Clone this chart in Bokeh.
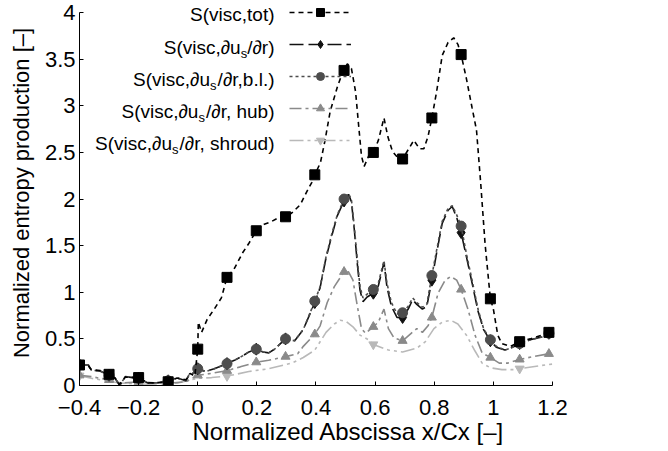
from bokeh.plotting import figure
from bokeh.models import FixedTicker, Label, Range1d, Legend, LegendItem
from bokeh.embed import file_html
from bokeh.resources import INLINE

# ---------------- data ----------------
tot_x = [-0.4, -0.37, -0.36, -0.33, -0.3, -0.28, -0.265, -0.245, -0.2, -0.17,
         -0.14, -0.1, -0.07, -0.04, -0.026, -0.01, 0.0, 0.002, 0.013, 0.032,
         0.056, 0.08, 0.099, 0.123, 0.153, 0.172, 0.198, 0.225, 0.25, 0.274,
         0.297, 0.318, 0.347, 0.369, 0.386, 0.396, 0.415, 0.43, 0.448, 0.472,
         0.49, 0.506, 0.52, 0.534, 0.544, 0.554, 0.563, 0.578, 0.594, 0.611,
         0.63, 0.643, 0.659, 0.683, 0.693, 0.712, 0.731, 0.75, 0.765, 0.779,
         0.792, 0.808, 0.827, 0.847, 0.866, 0.88, 0.891, 0.909, 0.928, 0.943,
         0.957, 0.972, 0.986, 0.99, 1.0, 1.015, 1.029, 1.058, 1.089, 1.125,
         1.164, 1.188]
tot_y = [0.22, 0.21, 0.17, 0.16, 0.12, 0.08, 0.01, 0.09, 0.085, 0.03,
         0.03, 0.04, 0.08, 0.06, 0.13, 0.10, 0.39, 0.68, 0.57, 0.71,
         0.82, 0.94, 1.16, 1.25, 1.43, 1.52, 1.66, 1.73, 1.76, 1.80,
         1.81, 1.85, 1.94, 2.08, 2.18, 2.26, 2.39, 2.62, 2.94, 3.2,
         3.36, 3.45, 3.40, 3.15, 2.8, 2.46, 2.35, 2.46, 2.50, 2.63,
         2.87, 2.67, 2.51, 2.42, 2.43, 2.53, 2.63, 2.54, 2.54, 2.67,
         2.87, 3.15, 3.54, 3.68, 3.73, 3.66, 3.55, 3.29, 2.98, 2.74,
         2.18, 1.52, 1.06, 0.93, 0.82, 0.54, 0.45, 0.42, 0.47, 0.50,
         0.54, 0.57]

bl_x = [-0.4, -0.37, -0.36, -0.33, -0.3, -0.28, -0.264, -0.245, -0.2, -0.167,
        -0.13, -0.1, -0.07, -0.04, -0.03, -0.017, 0.0, 0.027, 0.056, 0.099,
        0.124, 0.153, 0.173, 0.198, 0.221, 0.24, 0.26, 0.297, 0.328, 0.357,
        0.396, 0.414, 0.434, 0.453, 0.472, 0.495, 0.51, 0.52, 0.53, 0.54,
        0.549, 0.559, 0.573, 0.594, 0.611, 0.63, 0.64, 0.655, 0.674, 0.693,
        0.712, 0.727, 0.741, 0.76, 0.775, 0.792, 0.808, 0.827, 0.847, 0.861,
        0.876, 0.891, 0.909, 0.928, 0.948, 0.967, 0.99, 1.01, 1.039, 1.058,
        1.089, 1.125, 1.164, 1.188]
bl_y = [0.22, 0.22, 0.165, 0.155, 0.11, 0.08, 0.0, 0.095, 0.077, 0.025,
        0.03, 0.05, 0.08, 0.05, 0.11, 0.13, 0.18, 0.15, 0.18, 0.235,
        0.27, 0.32, 0.36, 0.39, 0.36, 0.35, 0.39, 0.50, 0.48, 0.60,
        0.905, 1.06, 1.38, 1.62, 1.83, 2.0, 2.06, 1.99, 1.69, 1.34,
        1.06, 0.94, 0.98, 1.03, 1.1, 1.34, 1.1, 0.89, 0.77, 0.78,
        0.85, 0.94, 0.89, 0.84, 0.87, 1.18, 1.45, 1.76, 1.9, 1.93,
        1.83, 1.71, 1.41, 1.13, 0.82, 0.61, 0.49, 0.42, 0.38, 0.40,
        0.45, 0.49, 0.52, 0.56]
dudr_y = [0.22, 0.22, 0.165, 0.155, 0.11, 0.08, 0.0, 0.095, 0.077, 0.025,
          0.03, 0.05, 0.08, 0.05, 0.11, 0.13, 0.18, 0.15, 0.18, 0.235,
          0.27, 0.32, 0.36, 0.39, 0.36, 0.35, 0.39, 0.50, 0.48, 0.60,
          0.89, 1.05, 1.37, 1.6, 1.82, 1.98, 2.05, 1.97, 1.66, 1.3,
          1.02, 0.9, 0.95, 0.99, 1.07, 1.32, 1.06, 0.85, 0.73, 0.73,
          0.82, 0.92, 0.87, 0.82, 0.85, 1.13, 1.42, 1.74, 1.88, 1.92,
          1.8, 1.64, 1.38, 1.1, 0.8, 0.6, 0.48, 0.41, 0.38, 0.40,
          0.45, 0.49, 0.52, 0.56]

hub_x = [-0.4, -0.36, -0.3, -0.26, -0.2, -0.15, -0.1, -0.04, 0.0, 0.047,
         0.099, 0.144, 0.198, 0.24, 0.297, 0.338, 0.357, 0.396, 0.414, 0.438,
         0.462, 0.495, 0.51, 0.525, 0.54, 0.554, 0.568, 0.594, 0.611, 0.63,
         0.645, 0.664, 0.693, 0.722, 0.741, 0.76, 0.779, 0.792, 0.813, 0.837,
         0.856, 0.876, 0.891, 0.914, 0.938, 0.962, 0.99, 1.02, 1.048, 1.089,
         1.135, 1.188]
hub_y = [0.11, 0.095, 0.06, 0.025, 0.04, 0.03, 0.025, 0.04, 0.11, 0.13,
         0.16, 0.2, 0.25, 0.27, 0.31, 0.34, 0.42, 0.55, 0.64, 0.89,
         1.06, 1.22, 1.22, 1.13, 0.85, 0.61, 0.56, 0.63, 0.68, 0.82,
         0.61, 0.51, 0.48, 0.56, 0.61, 0.57, 0.64, 0.73, 0.99, 1.13,
         1.17, 1.13, 1.03, 0.82, 0.54, 0.35, 0.30, 0.24, 0.24, 0.28,
         0.31, 0.34]

shroud_x = [-0.4, -0.36, -0.26, -0.167, -0.07, 0.0, 0.047, 0.099, 0.173, 0.24,
            0.318, 0.357, 0.396, 0.434, 0.462, 0.482, 0.501, 0.525, 0.549, 0.578,
            0.594, 0.645, 0.693, 0.741, 0.77, 0.799, 0.827, 0.856, 0.88, 0.909,
            0.938, 0.962, 0.99, 1.029, 1.068, 1.089, 1.152, 1.2]
shroud_y = [0.105, 0.077, 0.025, 0.014, 0.025, 0.077, 0.085, 0.1, 0.15, 0.18,
            0.24, 0.3, 0.38, 0.57, 0.66, 0.70, 0.69, 0.63, 0.54, 0.49,
            0.44, 0.38, 0.36, 0.40, 0.47, 0.61, 0.68, 0.70, 0.66, 0.54,
            0.37, 0.24, 0.19, 0.17, 0.17, 0.18, 0.21, 0.23]

# marker positions
mk_x = [-0.4, -0.3, -0.2, -0.1, 0.0, 0.099, 0.198, 0.297, 0.396, 0.495,
        0.594, 0.693, 0.792, 0.891, 0.99, 1.089, 1.188]
tot_my = [0.22, 0.12, 0.085, 0.04, 0.39, 1.16, 1.66, 1.81, 2.26, 3.38,
          2.50, 2.43, 2.87, 3.55, 0.93, 0.47, 0.57]
dudr_my = [0.22, 0.11, 0.077, 0.05, 0.18, 0.235, 0.39, 0.50, 0.89, 1.98,
           0.99, 0.73, 1.13, 1.64, 0.48, 0.45, 0.56]
bl_my = [0.22, 0.11, 0.077, 0.05, 0.18, 0.235, 0.39, 0.50, 0.905, 2.0,
         1.03, 0.78, 1.18, 1.71, 0.49, 0.45, 0.56]
hub_my = [0.11, 0.06, 0.04, 0.025, 0.11, 0.16, 0.25, 0.31, 0.55, 1.22,
          0.63, 0.48, 0.73, 1.03, 0.30, 0.28, 0.34]
shroud_mx = [-0.4, 0.099, 0.594, 1.089]
shroud_my = [0.105, 0.1, 0.44, 0.18]

x_ticks = [-0.4, -0.2, 0, 0.2, 0.4, 0.6, 0.8, 1, 1.2]
x_tick_labels = ["\u22120.4", "\u22120.2", "0", "0.2", "0.4", "0.6", "0.8", "1", "1.2"]
y_ticks = [0, 0.5, 1, 1.5, 2, 2.5, 3, 3.5, 4]
y_tick_labels = ["0", "0.5", "1", "1.5", "2", "2.5", "3", "3.5", "4"]

# legend text: (head, subscript, tail)
legend_texts = [
    ("S(visc,tot)", "", ""),
    ("S(visc,\u2202u", "s", "/\u2202r)"),
    ("S(visc,\u2202u", "s", "/\u2202r,b.l.)"),
    ("S(visc,\u2202u", "s", "/\u2202r, hub)"),
    ("S(visc,\u2202u", "s", "/\u2202r, shroud)"),
]

# ---------------- figure ----------------
FONT = "Liberation Sans"
# the frame is wider/taller than the drawn axes; axis lines are bounded
p = figure(width=668, height=451, output_backend="svg", toolbar_location=None,
           x_range=Range1d(-0.4, 1.42), y_range=Range1d(0, 4.13),
           min_border_left=79, min_border_right=51, min_border_top=0,
           min_border_bottom=66)
p.outline_line_color = None
p.grid.visible = False
p.background_fill_color = "white"
p.border_fill_color = "white"

p.xaxis.ticker = FixedTicker(ticks=x_ticks)
p.xaxis.major_label_overrides = dict(zip(x_ticks, x_tick_labels))
p.yaxis.ticker = FixedTicker(ticks=y_ticks)
p.yaxis.major_label_overrides = dict(zip(y_ticks, y_tick_labels))
p.xaxis.bounds = (-0.4, 1.2)
p.yaxis.bounds = (0, 4)
p.xaxis.axis_label = "Normalized Abscissa x/Cx [\u2013]"
p.yaxis.axis_label = "Normalized entropy production [\u2013]"
for ax in (p.xaxis[0], p.yaxis[0]):
    ax.major_tick_in = 4
    ax.major_tick_out = 0
    ax.minor_tick_line_color = None
    ax.axis_line_color = "black"
    ax.major_tick_line_color = "black"
    ax.major_label_text_font = FONT
    ax.major_label_text_font_size = "22px"
    ax.major_label_text_color = "black"
    ax.axis_label_text_font = FONT
    ax.axis_label_text_font_style = "normal"
    ax.axis_label_text_color = "black"
p.xaxis.axis_label_text_font_size = "24px"
p.yaxis.axis_label_text_font_size = "22px"
p.xaxis.major_label_standoff = 14
p.yaxis.major_label_standoff = 4
p.xaxis.axis_label_standoff = 0
p.yaxis.axis_label_standoff = 8

styles = {
    "tot":    ("#000000", "5 4", "square", 10),
    "dudr":   ("#111111", "14 5", "diamond", 12),
    "bl":     ("#4d4d4d", "3 3", "circle", 10),
    "hub":    ("#8a8a8a", "12 4 3 4", "triangle", 9),
    "shroud": ("#b9b9b9", "14 4 3 4 3 4", "inverted_triangle", 9),
}
series = {
    "shroud": (shroud_x, shroud_y, shroud_mx, shroud_my),
    "hub": (hub_x, hub_y, mk_x, hub_my),
    "dudr": (bl_x, dudr_y, mk_x, dudr_my),
    "bl": (bl_x, bl_y, mk_x, bl_my),
    "tot": (tot_x, tot_y, mk_x, tot_my),
}
renderers = {}
for key, (sx, sy, mx, my) in series.items():
    col, dash, mk, sz = styles[key]
    lr = p.line(sx, sy, line_color=col, line_width=1.6, line_dash=dash)
    sr = p.scatter(mx, my, marker=mk, size=sz, fill_color=col, line_color=col)
    renderers[key] = [lr, sr]

order = ["tot", "dudr", "bl", "hub", "shroud"]
items = [LegendItem(label=" ", renderers=renderers[k]) for k in order]
legend = Legend(items=items, location=(210, 235), padding=0, margin=0,
                spacing=12, glyph_width=62, glyph_height=20, label_height=20,
                label_width=1, label_standoff=0, label_text_font_size="1px",
                border_line_color=None, background_fill_alpha=0)
p.add_layout(legend, "center")

# legend labels, right-aligned, in screen units relative to the frame
W = {"S": 667, "(": 333, ")": 333, "v": 500, "i": 222, "s": 500, "c": 500,
     ",": 278, "t": 278, "o": 556, "\u2202": 494, "u": 556, "/": 278, "r": 333,
     "b": 556, ".": 278, "l": 222, " ": 278, "h": 556, "d": 556}
FS, SUB = 19, 13
def tw(s, fs):
    return sum(W.get(c, 556) for c in s) * fs / 1000.0

text_right = 195
row_y = [371, 338, 306, 274, 242]
for (head, sub, tail), ry in zip(legend_texts, row_y):
    xr = text_right
    if tail:
        p.add_layout(Label(x=xr, y=ry, x_units="screen", y_units="screen", text=tail,
                           text_align="right", text_baseline="middle", text_font=FONT,
                           text_font_size=f"{FS}px", text_color="black"))
        xr -= tw(tail, FS)
    if sub:
        p.add_layout(Label(x=xr, y=ry - 6, x_units="screen", y_units="screen", text=sub,
                           text_align="right", text_baseline="middle", text_font=FONT,
                           text_font_size=f"{SUB}px", text_color="black"))
        xr -= tw(sub, SUB)
    p.add_layout(Label(x=xr, y=ry, x_units="screen", y_units="screen", text=head,
                       text_align="right", text_baseline="middle", text_font=FONT,
                       text_font_size=f"{FS}px", text_color="black"))

open("out.html", "w").write(file_html(p, INLINE))
